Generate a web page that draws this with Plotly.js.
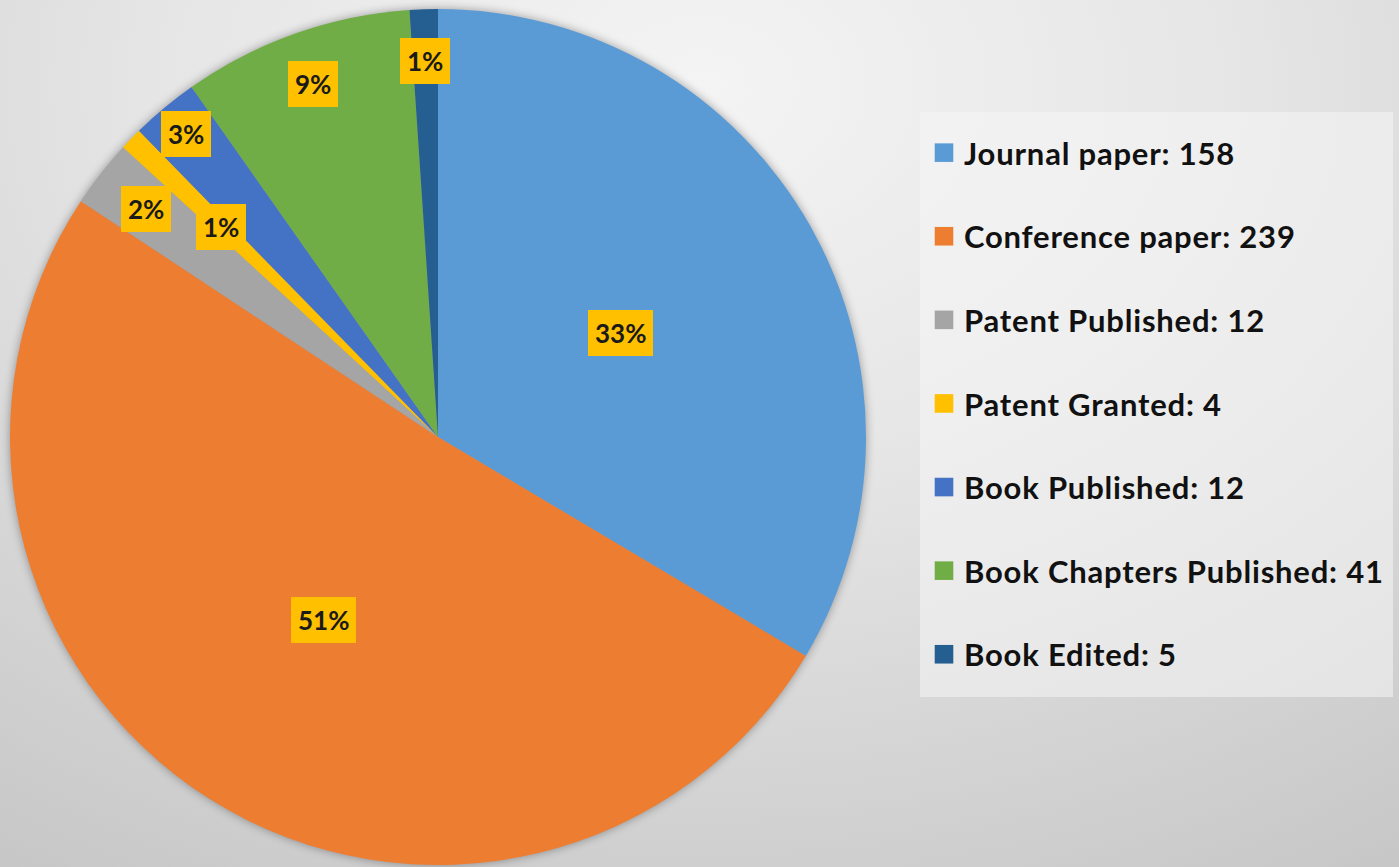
<!DOCTYPE html>
<html>
<head>
<meta charset="utf-8">
<script src="https://cdn.plot.ly/plotly-3.0.1.min.js"></script>
<style>
html, body { margin: 0; padding: 0; width: 1399px; height: 867px; overflow: hidden; }
body { background: radial-gradient(ellipse 95% 110% at 50% 10%, #f4f4f4 0%, #e6e6e6 40%, #c5c5c5 100%); }
#chart { width: 1399px; height: 867px; }
.pielayer { filter: drop-shadow(0px 0px 5px rgba(0,0,0,0.35)); }
.legendtext { letter-spacing: 0.8px; }
.legendpie { transform: translate(20px, 0px) scale(1.55); }
</style>
</head>
<body>
<div id="chart"></div>
<script>
// ---- data ----
const categories = ['Journal paper', 'Conference paper', 'Patent Published', 'Patent Granted', 'Book Published', 'Book Chapters Published', 'Book Edited'];
const counts = [158, 239, 12, 4, 12, 41, 5];
const percentLabels = ['33%', '51%', '2%', '1%', '3%', '9%', '1%'];

// ---- style / layout ----
const sliceColors = ['#5B9BD5', '#ED7D31', '#A5A5A5', '#FFC000', '#4472C4', '#70AD47', '#255E91'];
const labelRadius = [0.49, 0.505, 0.865, 0.705, 0.92, 0.876, 0.88];
const W = 1399, H = 867;
const CX = 438, CY = 437, R = 428;

const legendLabels = categories.map((c, i) => c + ': ' + counts[i] + '<br>&nbsp;');

const trace = {
  type: 'pie',
  labels: legendLabels,
  values: counts,
  sort: false,
  direction: 'clockwise',
  rotation: 0,
  marker: { colors: sliceColors, line: { width: 0 } },
  textinfo: 'none',
  hoverinfo: 'label+value',
  domain: { x: [(CX - R) / W, (CX + R) / W], y: [1 - (CY + R) / H, 1 - (CY - R) / H] }
};

// percentage label boxes placed at slice mid-angles
const total = counts.reduce((a, b) => a + b, 0);
let cum = 0;
const annotations = counts.map((v, i) => {
  const mid = (cum + v / 2) / total * 2 * Math.PI;
  cum += v;
  const px = CX + labelRadius[i] * R * Math.sin(mid);
  const py = CY - labelRadius[i] * R * Math.cos(mid);
  return {
    xref: 'paper', yref: 'paper', x: px / W, y: 1 - py / H,
    xanchor: 'center', yanchor: 'middle', showarrow: false,
    text: percentLabels[i],
    font: { family: 'Lato', size: 26, weight: 'bold', color: '#1a1a1a' },
    bgcolor: '#FFC000', borderpad: 7, borderwidth: 0
  };
});

const layout = {
  width: W, height: H,
  margin: { l: 0, r: 0, t: 0, b: 0 },
  paper_bgcolor: 'rgba(0,0,0,0)',
  plot_bgcolor: 'rgba(0,0,0,0)',
  showlegend: true,
  legend: {
    x: 924 / W, xanchor: 'left', y: 1 - 126 / H, yanchor: 'top',
    bgcolor: 'rgba(0,0,0,0)', borderwidth: 0, valign: 'top',
    font: { family: 'Lato', size: 31, weight: 'bold', color: '#111111' },
    traceorder: 'normal'
  },
  shapes: [{
    type: 'rect', xref: 'paper', yref: 'paper', layer: 'below',
    x0: 920 / W, x1: 1393 / W, y0: 1 - 697 / H, y1: 1 - 112 / H,
    fillcolor: 'rgba(246,246,246,0.55)', line: { width: 0 }
  }],
  annotations: annotations
};

Plotly.newPlot('chart', [trace], layout, { displayModeBar: false, staticPlot: true });
</script>
</body>
</html>
